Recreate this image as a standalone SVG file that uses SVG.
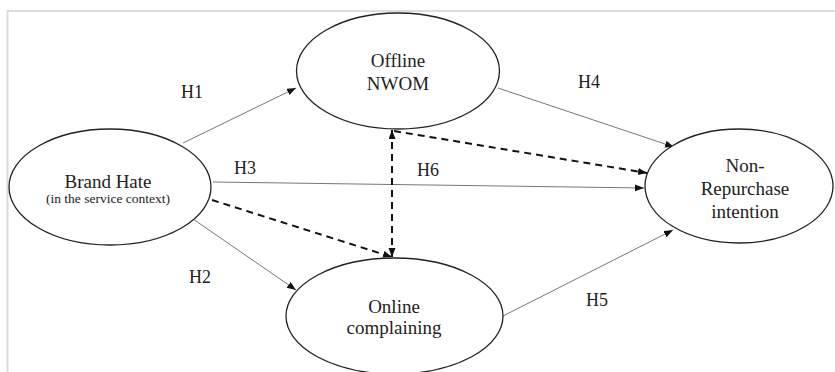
<svg xmlns="http://www.w3.org/2000/svg" width="835" height="372" viewBox="0 0 835 372">
<style>
  .frame{stroke:#dcdcdc;stroke-width:2;fill:none}
  .node{fill:#fff;stroke:#222;stroke-width:1.3}
  .t{font-family:"Liberation Serif","Times New Roman",serif;fill:#222;text-anchor:middle}
  .big{font-size:19px}
  .small{font-size:13.5px}
  .lab{font-family:"Liberation Serif","Times New Roman",serif;fill:#222;font-size:18px}
  .solid{stroke:#777;stroke-width:1;fill:none;marker-end:url(#ah)}
  .dash{stroke:#111;stroke-width:2;stroke-dasharray:7,5;fill:none;marker-end:url(#ah)}
</style>
<defs>
  <marker id="ah" markerUnits="userSpaceOnUse" markerWidth="10" markerHeight="8" refX="9" refY="3.5" orient="auto-start-reverse">
    <path d="M0,0 L9,3.5 L0,7 z" fill="#111"/>
  </marker>
</defs>
<rect width="835" height="372" fill="#fff"/>
<path class="frame" d="M7.5,372 V11 H835"/>

<g id="connectors">
  <line class="solid" x1="183" y1="143" x2="296" y2="88"/>
  <line class="solid" x1="193" y1="219" x2="296" y2="290"/>
  <line class="solid" x1="213" y1="182" x2="644" y2="188"/>
  <line class="solid" x1="498" y1="88" x2="674" y2="147"/>
  <line class="solid" x1="503" y1="316" x2="673" y2="230"/>
  <line class="dash" x1="212" y1="200" x2="392" y2="257"/>
  <line class="dash" x1="392" y1="130" x2="392" y2="257" style="marker-start:url(#ah)"/>
  <line class="dash" x1="394" y1="131" x2="647" y2="173"/>
  <text class="lab" x="181" y="98">H1</text>
  <text class="lab" x="189" y="283">H2</text>
  <text class="lab" x="234" y="174">H3</text>
  <text class="lab" x="578" y="88">H4</text>
  <text class="lab" x="586" y="306">H5</text>
  <text class="lab" x="417" y="176">H6</text>
</g>

<g id="brand-hate">
  <ellipse class="node" cx="110" cy="187" rx="101" ry="58"/>
  <text class="t big" x="108" y="188">Brand Hate</text>
  <text class="t small" x="108" y="203">(in the service context)</text>
</g>

<g id="offline-nwom">
  <ellipse class="node" cx="398" cy="71" rx="101.5" ry="58"/>
  <text class="t big" x="398" y="67">Offline</text>
  <text class="t big" x="398" y="90">NWOM</text>
</g>

<g id="online-complaining">
  <ellipse class="node" cx="394.5" cy="316" rx="108.5" ry="58"/>
  <text class="t big" x="394" y="313">Online</text>
  <text class="t big" x="394" y="334">complaining</text>
</g>

<g id="non-repurchase">
  <ellipse class="node" cx="739" cy="186" rx="94" ry="57"/>
  <text class="t big" x="745" y="172">Non-</text>
  <text class="t big" x="745" y="195">Repurchase</text>
  <text class="t big" x="745" y="218">intention</text>
</g>
</svg>
